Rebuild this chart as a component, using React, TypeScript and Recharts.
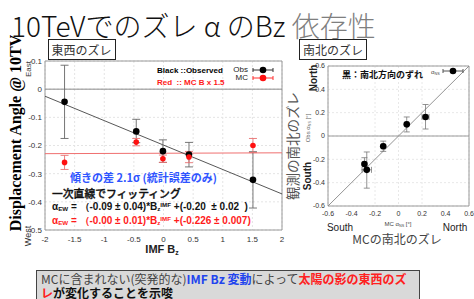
import React from "react"
import {
  ComposedChart,
  Scatter,
  XAxis,
  YAxis,
  CartesianGrid,
  ReferenceLine,
  ReferenceArea,
  ErrorBar
} from "recharts"

// east-west displacement vs IMF Bz
const bzObs = [-1.67, -0.46, -0.01, 0.43, 1.51]
const alphaObs = [-0.045, -0.15, -0.22, -0.232, -0.322]
const obsErrDown = [0.13, 0.04, 0.04, 0.044, 0.1]
const obsErrUp = [0.13, 0.043, 0.04, 0.043, 0.1]

const bzMc = [-1.67, -0.46, -0.01, 0.43, 1.51]
const alphaMc = [-0.26, -0.188, -0.247, -0.241, -0.2]
const mcErr = [0.025, 0.013, 0.013, 0.02, 0.025]

// fitted lines (end points at the plot edges)
const fitX = [-2, 2]
const fitObsY = [-0.025, -0.372]
const fitMcY = [-0.229, -0.226]

const ewXTicks = [-2, -1.5, -1, -0.5, 0, 0.5, 1, 1.5, 2]
const ewYTicks = [-0.5, -0.4, -0.3, -0.2, -0.1, 0, 0.1]

// north-south: MC vs observed
const nsMc = [0.07, 0.23, -0.13, -0.29, -0.27]
const nsObs = [0.1, 0.163, -0.088, -0.24, -0.29]
const nsObsErrDown = [0.065, 0.103, 0.044, 0.05, 0.157]
const nsObsErrUp = [0.063, 0.107, 0.044, 0.054, 0.153]
const nsMcErr = [0.012, 0.03, 0.012, 0.012, 0.04]
const nsTicks = [-0.6, -0.4, -0.2, 0, 0.2, 0.4, 0.6]

const obsData = bzObs.map((x, i) => ({ x, y: alphaObs[i], ey: [obsErrDown[i], obsErrUp[i]] }))
const mcData = bzMc.map((x, i) => ({ x, y: alphaMc[i], ey: [mcErr[i], mcErr[i]] }))
const nsData = nsMc.map((x, i) => ({
  x,
  y: nsObs[i],
  ey: [nsObsErrDown[i], nsObsErrUp[i]],
  ex: [nsMcErr[i], nsMcErr[i]]
}))

const SANS = "'Liberation Sans', Arial, sans-serif"
const JP = "'Noto Sans CJK JP', 'Noto Sans', sans-serif"

const dot = (r: number, fill: string) => (p: any) => <circle cx={p.cx} cy={p.cy} r={r} fill={fill} />

function Txt({ x, y, size, children, color = "#000", weight = 400, family = JP, anchor = "left", rotate = false, style = {} }: any) {
  const tx = anchor === "center" ? "-50%" : anchor === "right" ? "-100%" : "0"
  return (
    <div
      style={{
        position: "absolute",
        left: x,
        top: y,
        fontSize: size,
        lineHeight: `${size}px`,
        color,
        fontWeight: weight,
        fontFamily: family,
        whiteSpace: "nowrap",
        transform: rotate ? "translate(-50%, -50%) rotate(-90deg)" : `translate(${tx}, -50%)`,
        ...style
      }}
    >
      {children}
    </div>
  )
}

function ErrIcon({ x, y, color, bar }: any) {
  return (
    <svg style={{ position: "absolute", left: x - 11, top: y - 5 }} width={22} height={10}>
      <line x1={1} y1={5} x2={21} y2={5} stroke={bar} strokeWidth={1} />
      <line x1={1} y1={3} x2={1} y2={7} stroke={bar} strokeWidth={1} />
      <line x1={21} y1={3} x2={21} y2={7} stroke={bar} strokeWidth={1} />
      <circle cx={11} cy={5} r={3.3} fill={color} />
    </svg>
  )
}

function BoxTitle({ x, text }: any) {
  return (
    <div
      style={{
        position: "absolute",
        left: x,
        top: 39,
        width: 66,
        height: 19,
        border: "1.5px solid #222",
        background: "#fff",
        fontFamily: JP,
        fontSize: 12,
        lineHeight: "19px",
        color: "#333",
        textAlign: "center"
      }}
    >
      {text}
    </div>
  )
}

const sub = { fontSize: "0.62em", verticalAlign: "-0.25em" }
const sup = { fontSize: "0.62em", verticalAlign: "0.55em" }

export default function App() {
  return (
    <div style={{ position: "absolute", left: 0, top: 0, width: 474, height: 299, background: "#fff", overflow: "hidden" }}>
      <div style={{ position: "absolute", left: 11, top: 11, fontFamily: JP, fontWeight: 300, fontSize: 28, lineHeight: "28px", whiteSpace: "nowrap" }}>
        <span style={{ color: "#111" }}>10TeVでのズレ α のBz </span>
        <span style={{ color: "#7f7f7f" }}>依存性</span>
      </div>

      {/* left chart */}
      <div style={{ position: "absolute", left: 0, top: 0 }}>
        <ComposedChart width={290} height={262} margin={{ top: 61, right: 8, left: 25, bottom: 2 }}>
          <CartesianGrid stroke="#e4e4e4" strokeDasharray="2 2" />
          <XAxis
            type="number"
            dataKey="x"
            domain={[-2, 2]}
            ticks={ewXTicks}
            height={30}
            axisLine={false}
            tickLine={false}
            tickSize={4}
            tick={{ fontSize: 8, fill: "#333", fontFamily: SANS }}
          />
          <YAxis
            type="number"
            dataKey="y"
            domain={[-0.5, 0.1]}
            ticks={ewYTicks}
            width={20}
            axisLine={false}
            tickLine={false}
            tickSize={1}
            tick={{ fontSize: 8, fill: "#333", fontFamily: SANS }}
          />
          <ReferenceArea x1={-2} x2={2} y1={-0.5} y2={0.1} fill="none" stroke="#9a9a9a" strokeWidth={1} />
          <ReferenceLine y={0} stroke="#8a8a8a" strokeWidth={1} />
          <ReferenceLine
            segment={[{ x: fitX[0], y: fitMcY[0] }, { x: fitX[1], y: fitMcY[1] }]}
            stroke="#f07070"
            strokeWidth={1}
          />
          <ReferenceLine
            segment={[{ x: fitX[0], y: fitObsY[0] }, { x: fitX[1], y: fitObsY[1] }]}
            stroke="#444"
            strokeWidth={0.9}
          />
          <Scatter data={obsData} shape={dot(3.3, "#000")} isAnimationActive={false}>
            <ErrorBar dataKey="ey" direction="y" width={4} stroke="#666" strokeWidth={0.9} />
          </Scatter>
          <Scatter data={mcData} shape={dot(2.8, "#ff1010")} isAnimationActive={false}>
            <ErrorBar dataKey="ey" direction="y" width={4} stroke="#e87070" strokeWidth={0.9} />
          </Scatter>
        </ComposedChart>
      </div>

      {/* right chart */}
      <div style={{ position: "absolute", left: 290, top: 0 }}>
        <ComposedChart width={184} height={222} margin={{ top: 66, right: 5, left: 20, bottom: 2 }}>
          <CartesianGrid stroke="#e8e8e8" strokeDasharray="2 2" />
          <XAxis
            type="number"
            dataKey="x"
            domain={[-0.6, 0.6]}
            ticks={nsTicks}
            height={14}
            axisLine={false}
            tickLine={false}
            tickSize={3}
            tick={{ fontSize: 7, fill: "#333", fontFamily: SANS }}
          />
          <YAxis
            type="number"
            dataKey="y"
            domain={[-0.6, 0.6]}
            ticks={nsTicks}
            width={18}
            axisLine={false}
            tickLine={false}
            tickSize={1}
            tick={{ fontSize: 7, fill: "#333", fontFamily: SANS }}
          />
          <ReferenceArea x1={-0.6} x2={0.6} y1={-0.6} y2={0.6} fill="none" stroke="#9a9a9a" strokeWidth={1} />
          <ReferenceLine y={0} stroke="#9a9a9a" strokeWidth={1} />
          <ReferenceLine segment={[{ x: -0.6, y: -0.6 }, { x: 0.6, y: 0.6 }]} stroke="#888" strokeWidth={0.9} />
          <Scatter data={nsData} shape={dot(3.3, "#000")} isAnimationActive={false}>
            <ErrorBar dataKey="ey" direction="y" width={3} stroke="#777" strokeWidth={0.8} />
            <ErrorBar dataKey="ex" direction="x" width={3} stroke="#777" strokeWidth={0.8} />
          </Scatter>
        </ComposedChart>
      </div>

      {/* left chart texts */}
      <Txt x={16} y={133} size={16} weight={700} family="'Liberation Serif', serif" rotate>
        Displacement Angle @ 10TV
      </Txt>
      <Txt x={29} y={69} size={8} family={SANS} color="#333" rotate>East</Txt>
      <Txt x={28} y={236} size={9} family={SANS} color="#333" rotate>West</Txt>
      <Txt x={162} y={251} size={11} weight={700} family={SANS} anchor="center" color="#222">
        IMF B<span style={sub}>z</span>
      </Txt>
      <Txt x={157} y={71} size={8} weight={700} family={SANS}>Black ::Observed</Txt>
      <Txt x={157} y={83} size={8} weight={700} family={SANS} color="#ff1a1a">Red &nbsp;:: MC B x 1.5</Txt>
      <Txt x={248} y={70} size={8} family={SANS} color="#222" anchor="right">Obs</Txt>
      <Txt x={248} y={78} size={8} family={SANS} color="#222" anchor="right">MC</Txt>
      <ErrIcon x={262.7} y={70} color="#000" bar="#333" />
      <ErrIcon x={262.7} y={78} color="#ff1010" bar="#ff3030" />

      <Txt x={70} y={177} size={11} weight={700} color="#2f55ff">傾きの差 2.1σ (統計誤差のみ)</Txt>
      <Txt x={52} y={193} size={10.8} weight={500} color="#111" style={{ WebkitTextStroke: "0.35px #111" }}>
        一次直線でフィッティング
      </Txt>
      <Txt x={52} y={207} size={10} weight={700} family={SANS} color="#111">
        α<span style={sub}>EW</span> = （-0.09 ± 0.04)*B<span style={sub}>z</span><span style={sup}>IMF</span> +(-0.20 &nbsp;± 0.02 &nbsp;)
      </Txt>
      <Txt x={52} y={221} size={10} weight={700} family={SANS} color="#ff1a1a">
        α<span style={sub}>EW</span> = （-0.00 ± 0.01)*B<span style={sub}>z</span><span style={sup}>IMF</span> +(-0.226 ± 0.007)
      </Txt>

      {/* right chart texts */}
      <Txt x={293} y={146} size={13.5} color="#555" rotate>観測の南北のズレ</Txt>
      <Txt x={309} y={128} size={6} family={SANS} color="#666" rotate>Obs α<span style={sub}>NS</span> [°]</Txt>
      <Txt x={314} y={78} size={10} weight={700} family={SANS} color="#222" rotate>North</Txt>
      <Txt x={308} y={176} size={10} weight={700} family={SANS} color="#222" rotate>South</Txt>
      <Txt x={342} y={74} size={9} weight={700} color="#111">黒：南北方向のずれ</Txt>
      <Txt x={431} y={73} size={6} family={SANS} color="#444">α<span style={sub}>NS</span></Txt>
      <ErrIcon x={453} y={71} color="#000" bar="#555" />
      <Txt x={340} y={228} size={10} weight={500} family={SANS} color="#222" anchor="center">South</Txt>
      <Txt x={398} y={225} size={6} family={SANS} color="#444" anchor="center">MC α<span style={sub}>NS</span> [°]</Txt>
      <Txt x={455} y={228} size={10} weight={500} family={SANS} color="#222" anchor="center">North</Txt>
      <Txt x={397} y={239} size={12} color="#444" anchor="center">MCの南北のズレ</Txt>

      <BoxTitle x={47.5} text="東西のズレ" />
      <BoxTitle x={299} text="南北のズレ" />

      {/* conclusion box */}
      <div
        style={{
          position: "absolute",
          left: 36,
          top: 270,
          width: 378,
          height: 40,
          background: "#d9d9d9",
          border: "1.5px solid #444",
          fontFamily: JP,
          fontSize: 12,
          lineHeight: "14px",
          padding: "1px 0 0 4px",
          whiteSpace: "nowrap",
          color: "#444"
        }}
      >
        MCに含まれない(突発的な)<b style={{ color: "#2244ee" }}>IMF Bz 変動</b>によって<b style={{ color: "#ff2020" }}>太陽の影の東西のズ</b>
        <br />
        <b style={{ color: "#ff2020" }}>レ</b><b style={{ color: "#111" }}>が変化することを示唆</b>
      </div>
    </div>
  )
}
